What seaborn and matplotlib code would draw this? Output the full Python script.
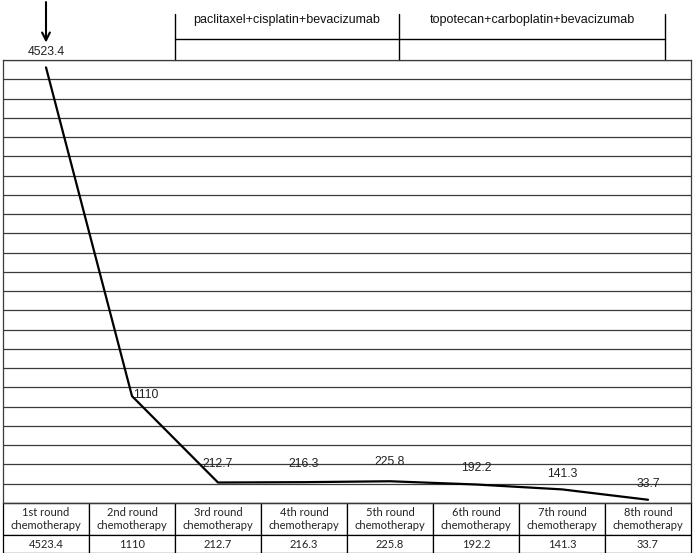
import numpy as np
import pandas as pd
import matplotlib
matplotlib.use("Agg")
import matplotlib.pyplot as plt
import seaborn as sns

# chart data
rounds = ["1st round\nchemotherapy", "2nd round\nchemotherapy", "3rd round\nchemotherapy",
          "4th round\nchemotherapy", "5th round\nchemotherapy", "6th round\nchemotherapy",
          "7th round\nchemotherapy", "8th round\nchemotherapy"]
values = [4523.4, 1110, 212.7, 216.3, 225.8, 192.2, 141.3, 33.7]
value_labels = ["4523.4", "1110", "212.7", "216.3", "225.8", "192.2", "141.3", "33.7"]
regimens = ["paclitaxel+cisplatin+bevacizumab", "topotecan+carboplatin+bevacizumab"]
regimen_edges = [1.5, 4.1, 7.2]

sns.set_style("white")
plt.rcParams['font.family'] = ['Liberation Sans', 'DejaVu Sans']

df = pd.DataFrame({"pos": np.arange(len(values)), "value": values})

fig = plt.figure(figsize=(6.93, 5.53), dpi=100)
ax = fig.add_axes([3 / 693, 50 / 553, 688 / 693, 443 / 553])

sns.lineplot(data=df, x="pos", y="value", color="black", linewidth=1.6, ax=ax)

ax.set_xlim(-0.5, 7.5)
ax.set_ylim(0, 4600)
ax.set_yticks(np.arange(0, 4601, 200))
ax.set_xticks([])
ax.yaxis.grid(True, color="#3a3a3a", linewidth=0.9)
ax.tick_params(left=False, labelleft=False)
ax.set_xlabel("")
ax.set_ylabel("")
for s in ax.spines.values():
    s.set_color("#3a3a3a")
    s.set_linewidth(0.9)

# point labels (offsets in points)
offsets = [(0, 0), (1, 1), (0, 13), (0, 13), (0, 14), (0, 12), (0, 11), (0, 11)]
for i, (v, lab) in enumerate(zip(values, value_labels)):
    if i == 0:
        continue
    dx, dy = offsets[i]
    ax.annotate(lab, (i, v), xytext=(dx, dy), textcoords="offset points",
                ha="left" if i == 1 else "center", va="center",
                fontsize=8.8, color="#222222")

tr = ax.get_xaxis_transform()
# first value label and arrow above the plot
ax.text(0, 1.018, value_labels[0], transform=tr, ha="center", va="center",
        fontsize=8.8, color="#222222", clip_on=False)
ax.annotate("", xy=(0, 1.033), xycoords=tr, xytext=(0, 1.137), textcoords=tr,
            arrowprops=dict(arrowstyle="->", color="black", lw=1.5, mutation_scale=14))

# regimen brackets
for x in regimen_edges:
    ax.plot([x, x], [1.0, 1.104], transform=tr, color="black", lw=1.0, clip_on=False)
ax.plot([regimen_edges[0], regimen_edges[-1]], [1.047, 1.047], transform=tr,
        color="black", lw=1.0, clip_on=False)
for j, name in enumerate(regimens):
    ax.text((regimen_edges[j] + regimen_edges[j + 1]) / 2, 1.09, name, transform=tr,
            ha="center", va="center", fontsize=9, color="#111111", clip_on=False)

# data table under the chart
tab = ax.table(cellText=[value_labels], colLabels=rounds, cellLoc="center",
               bbox=[0, -50 / 443, 1, 50 / 443])
tab.auto_set_font_size(False)
for (r, c), cell in tab.get_celld().items():
    cell.set_edgecolor("black")
    cell.set_linewidth(0.9)
    cell.get_text().set_fontsize(8)
    cell.get_text().set_family(["Lato", "DejaVu Sans"])
    cell.get_text().set_color("#222222")
    cell.get_text().set_linespacing(1.3)
    if r == 0:
        cell.set_height(32 / 443)
        cell.set_y(-32 / 443)
    else:
        cell.set_height(18 / 443)
        cell.set_y(-50 / 443)

fig.savefig("out.png", dpi=100)
